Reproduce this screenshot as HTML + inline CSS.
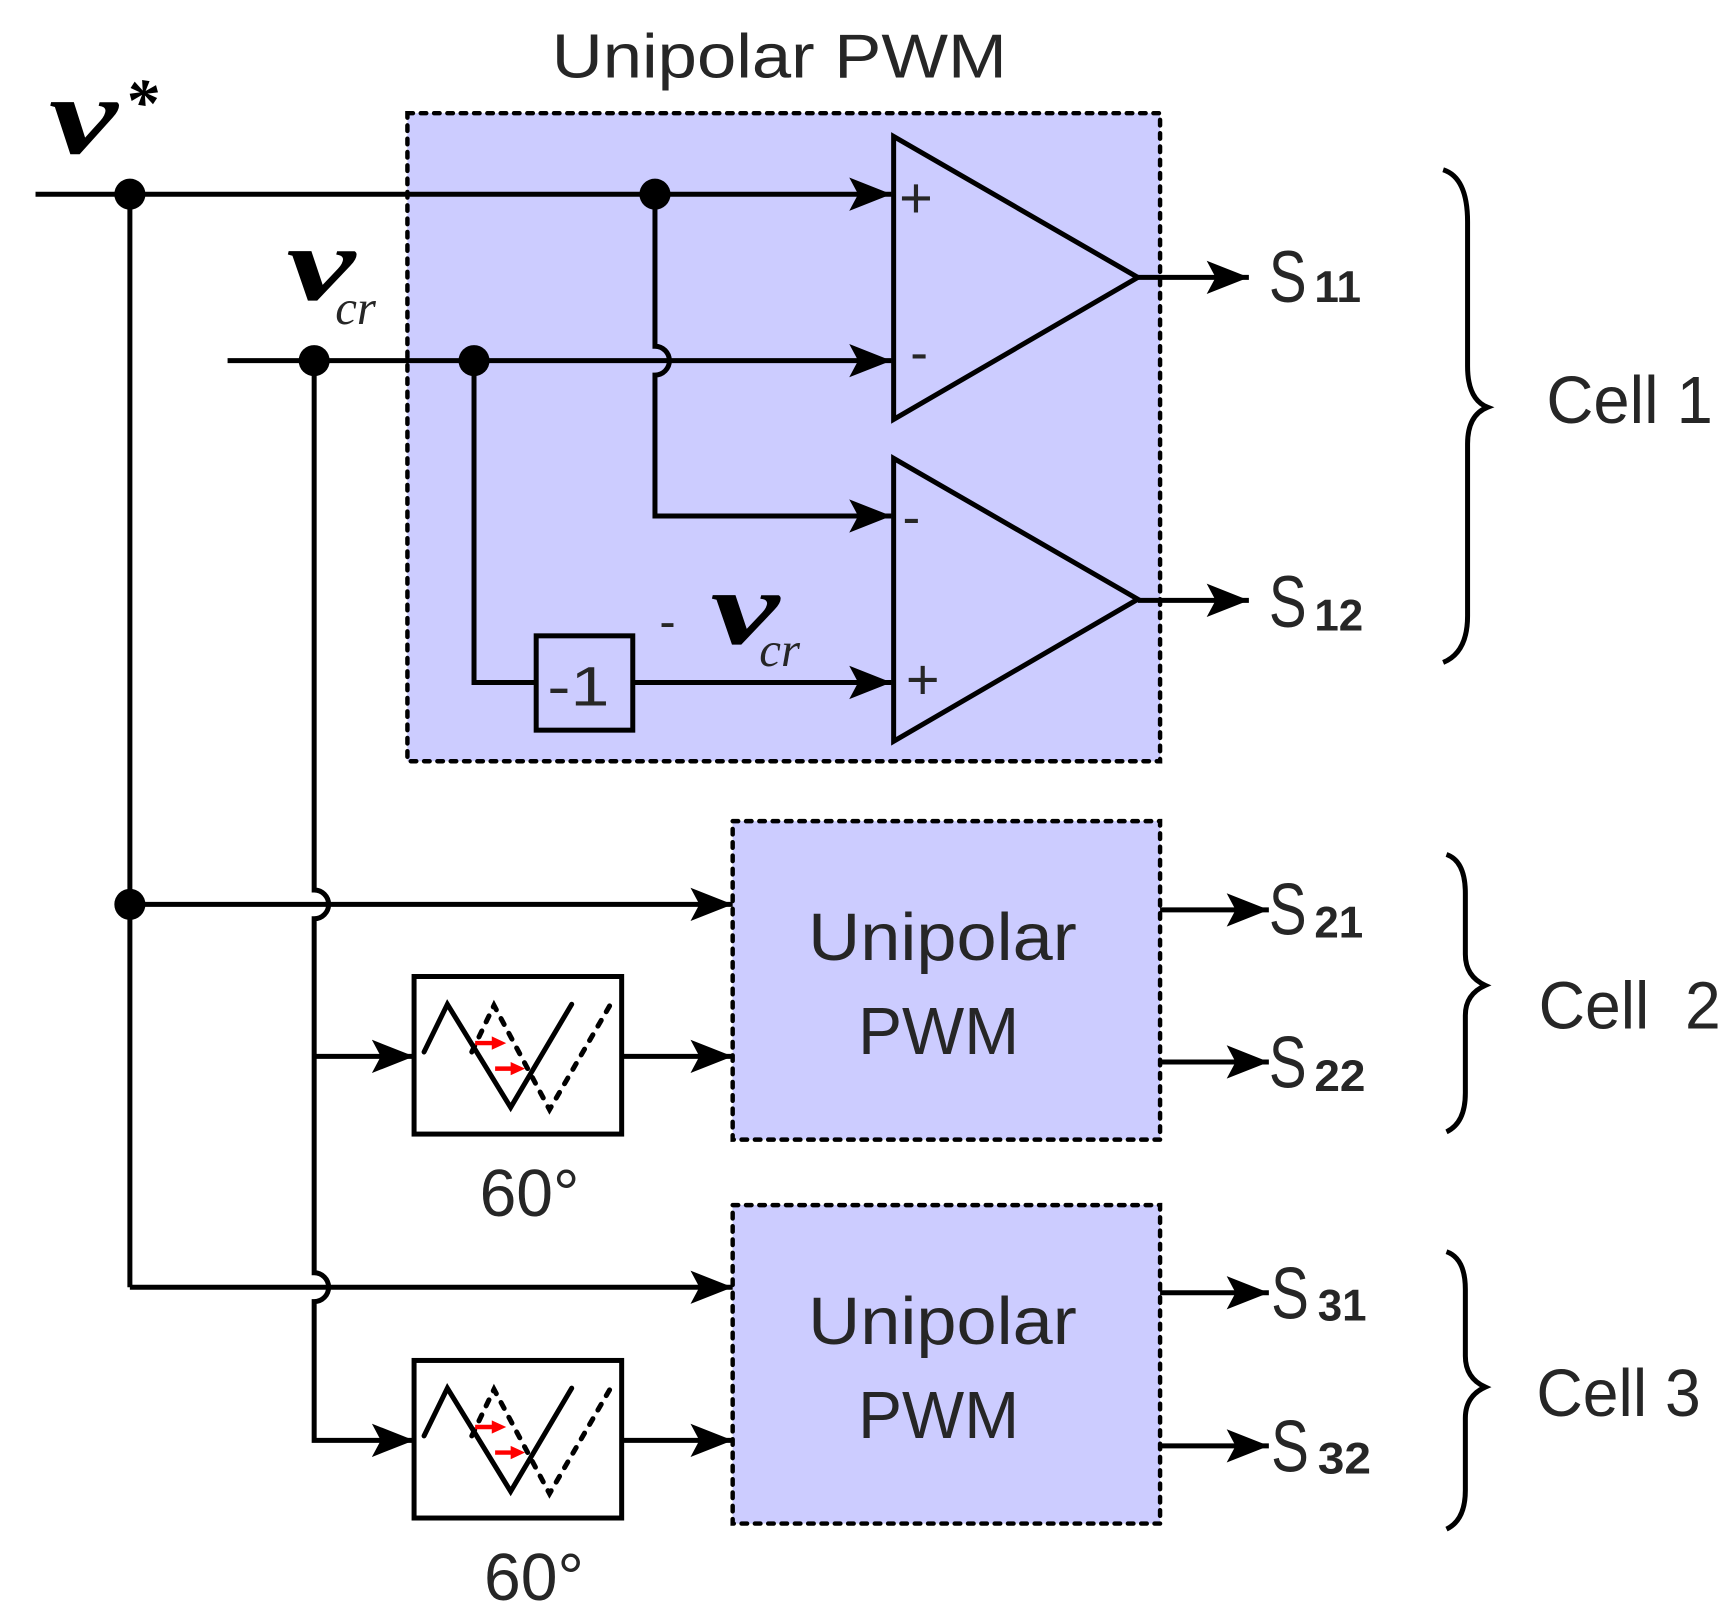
<!DOCTYPE html>
<html><head><meta charset="utf-8"><style>
html,body{margin:0;padding:0;background:#fff;}
svg{display:block;}
.t{font-family:"Liberation Sans",sans-serif;fill:#262626;}
.m{font-family:"Liberation Serif",serif;font-style:italic;font-weight:bold;fill:#000;}
.s{font-family:"Liberation Serif",serif;font-style:italic;fill:#262626;}
</style></head><body>
<svg width="1734" height="1619" viewBox="0 0 1562 1459" preserveAspectRatio="none" xmlns="http://www.w3.org/2000/svg">
<defs>
<marker id="a" markerWidth="40" markerHeight="34" refX="38" refY="17" orient="auto" markerUnits="userSpaceOnUse">
<path d="M0,2 L38,17 L0,32 L8,17 Z" fill="#000"/>
</marker>
</defs>
<g fill="#ccccff" stroke="#000" stroke-width="4" stroke-dasharray="5,7" stroke-linecap="round">
<rect x="367" y="102" width="678" height="584"/>
<rect x="660" y="740" width="385" height="287"/>
<rect x="660" y="1086" width="385" height="287"/>
</g>
<text class="t" x="497" y="70" font-size="56" textLength="410" lengthAdjust="spacingAndGlyphs">Unipolar PWM</text>
<text class="m" x="44" y="138" font-size="100" textLength="62" lengthAdjust="spacingAndGlyphs">v</text>
<text class="m" x="112" y="112" font-size="60">*</text>
<text class="m" x="258" y="270" font-size="95" textLength="62" lengthAdjust="spacingAndGlyphs">v</text>
<text class="s" x="302" y="292" font-size="44">cr</text>
<text class="t" x="594" y="575" font-size="44">-</text>
<text class="m" x="640" y="580" font-size="95" textLength="62" lengthAdjust="spacingAndGlyphs">v</text>
<text class="s" x="684" y="600" font-size="44">cr</text>
<g stroke="#000" stroke-width="4.5" fill="none">
<line x1="32" y1="175" x2="803" y2="175" marker-end="url(#a)"/>
<line x1="205" y1="325" x2="803" y2="325" marker-end="url(#a)"/>
<path d="M590,175 V312 A13,13 0 0 1 590,338 V465 H803" marker-end="url(#a)"/>
<path d="M427,325 V615 H483"/>
<rect x="483" y="573" width="87" height="85"/>
<line x1="570" y1="615" x2="803" y2="615" marker-end="url(#a)"/>
<polygon points="805,123 805,378 1025,250"/>
<polygon points="805,413 805,668 1025,540"/>
<line x1="1025" y1="250" x2="1125" y2="250" marker-end="url(#a)"/>
<line x1="1025" y1="541" x2="1125" y2="541" marker-end="url(#a)"/>
<line x1="117" y1="175" x2="117" y2="1160"/>
<path d="M283,325 V802 A13,13 0 0 1 283,828 V1147 A13,13 0 0 1 283,1173 V1298 H373" marker-end="url(#a)"/>
<line x1="283" y1="952" x2="373" y2="952" marker-end="url(#a)"/>
<line x1="117" y1="815" x2="660" y2="815" marker-end="url(#a)"/>
<line x1="117" y1="1160" x2="660" y2="1160" marker-end="url(#a)"/>
<rect x="373" y="880" width="187" height="142"/>
<rect x="373" y="1226" width="187" height="142"/>
<line x1="560" y1="952" x2="660" y2="952" marker-end="url(#a)"/>
<line x1="560" y1="1298" x2="660" y2="1298" marker-end="url(#a)"/>
<line x1="1045" y1="820" x2="1143" y2="820" marker-end="url(#a)"/>
<line x1="1045" y1="957" x2="1143" y2="957" marker-end="url(#a)"/>
<line x1="1045" y1="1165" x2="1143" y2="1165" marker-end="url(#a)"/>
<line x1="1045" y1="1303" x2="1143" y2="1303" marker-end="url(#a)"/>
<path d="M1300,153 Q1322,160 1322,200 V330 Q1322,360 1340,367 Q1322,374 1322,400 V555 Q1322,588 1300,597"/>
<path d="M1303,770 Q1320,776 1320,805 V860 Q1320,880 1338,888 Q1320,896 1320,915 V985 Q1320,1012 1303,1020"/>
<path d="M1303,1128 Q1320,1134 1320,1162 V1222 Q1320,1242 1338,1250 Q1320,1258 1320,1278 V1343 Q1320,1370 1303,1378"/>
</g>
<g fill="#000">
<circle cx="117" cy="175" r="14"/><circle cx="590" cy="175" r="14"/>
<circle cx="283" cy="325" r="14"/><circle cx="427" cy="325" r="14"/>
<circle cx="117" cy="815" r="14"/>
</g>
<g id="w">
<polyline points="382,948 403,905 460,998 515,905" fill="none" stroke="#000" stroke-width="4.5" stroke-linecap="round"/>
<polyline points="425,948 445,906 495,1000 550,905" fill="none" stroke="#000" stroke-width="4.5" stroke-dasharray="6,9" stroke-linecap="round"/>
<g stroke="red" stroke-width="4" fill="red">
<line x1="428" y1="940" x2="445" y2="940"/><polygon points="443,934 456,940 443,946" stroke="none"/>
<line x1="446" y1="963" x2="462" y2="963"/><polygon points="460,957 473,963 460,969" stroke="none"/>
</g>
</g>
<use href="#w" transform="translate(0,346)"/>
<g class="t" font-size="44">
<text x="810" y="196" font-size="52">+</text>
<text x="820" y="334" font-size="48">-</text>
<text x="813" y="482" font-size="48">-</text>
<text x="816" y="630" font-size="52">+</text>
<text x="493" y="636" font-size="50" textLength="56" lengthAdjust="spacingAndGlyphs">-1</text>
</g>
<g class="t" font-size="66">
<text x="1143" y="272" textLength="34" lengthAdjust="spacingAndGlyphs">S</text><text x="1184" y="272" font-size="40" font-weight="bold" textLength="42" lengthAdjust="spacingAndGlyphs">11</text>
<text x="1143" y="565" textLength="34" lengthAdjust="spacingAndGlyphs">S</text><text x="1184" y="568" font-size="40" font-weight="bold" textLength="44" lengthAdjust="spacingAndGlyphs">12</text>
<text x="1143" y="842" textLength="34" lengthAdjust="spacingAndGlyphs">S</text><text x="1184" y="845" font-size="40" font-weight="bold" textLength="44" lengthAdjust="spacingAndGlyphs">21</text>
<text x="1143" y="980" textLength="34" lengthAdjust="spacingAndGlyphs">S</text><text x="1184" y="983" font-size="40" font-weight="bold" textLength="46" lengthAdjust="spacingAndGlyphs">22</text>
<text x="1145" y="1188" textLength="34" lengthAdjust="spacingAndGlyphs">S</text><text x="1187" y="1190" font-size="40" font-weight="bold" textLength="44" lengthAdjust="spacingAndGlyphs">31</text>
<text x="1145" y="1326" textLength="34" lengthAdjust="spacingAndGlyphs">S</text><text x="1187" y="1328" font-size="40" font-weight="bold" textLength="48" lengthAdjust="spacingAndGlyphs">32</text>
</g>
<g class="t" font-size="60" lengthAdjust="spacingAndGlyphs">
<text x="1393" y="381" textLength="150" lengthAdjust="spacingAndGlyphs">Cell 1</text>
<text x="1386" y="927" textLength="164" lengthAdjust="spacingAndGlyphs" xml:space="preserve">Cell  2</text>
<text x="1384" y="1276" textLength="148" lengthAdjust="spacingAndGlyphs">Cell 3</text>
<text x="728" y="865" textLength="242" lengthAdjust="spacingAndGlyphs">Unipolar</text>
<text x="773" y="950" textLength="145" lengthAdjust="spacingAndGlyphs">PWM</text>
<text x="728" y="1211" textLength="242" lengthAdjust="spacingAndGlyphs">Unipolar</text>
<text x="773" y="1296" textLength="145" lengthAdjust="spacingAndGlyphs">PWM</text>
<text x="432" y="1096" textLength="90" lengthAdjust="spacingAndGlyphs">60°</text>
<text x="436" y="1442" textLength="90" lengthAdjust="spacingAndGlyphs">60°</text>
</g>
</svg>
</body></html>
